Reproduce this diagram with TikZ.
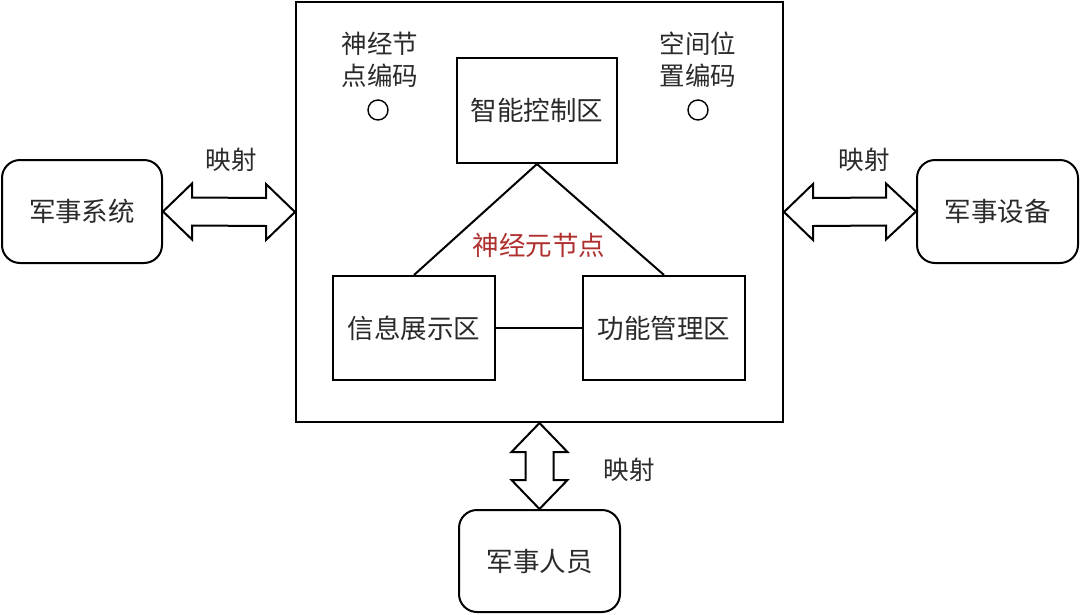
\documentclass[tikz,border=0pt]{standalone}
\usepackage{fontspec}
\setmainfont{Noto Sans CJK SC}
\usetikzlibrary{calc}
\definecolor{txt}{HTML}{2A2A2A}
\definecolor{redtxt}{HTML}{B03030}
\begin{document}
\begin{tikzpicture}[x=1pt,y=-1pt,
  every node/.style={font=\fontsize{26.5}{30}\selectfont, text=txt},
  box/.style={draw=black, line width=2pt, inner sep=0pt},
  rbox/.style={box, rounded corners=18pt},
  link/.style={draw=black, line width=2pt},
  lbl/.style={font=\fontsize{25.5}{32}\selectfont, text=txt, inner sep=0pt}]
\useasboundingbox (0,0) rectangle (1080,614);
\fill[white] (0,0) rectangle (1080,614);
% main box
\node[box, minimum width=487pt, minimum height=420pt] (main) at (539.5,212) {};
% outer boxes
\node[rbox, minimum width=160pt, minimum height=103pt] (sys) at (82,211.5) {军事系统};
\node[rbox, minimum width=161pt, minimum height=103pt] (dev) at (997.5,211.5) {军事设备};
\node[rbox, minimum width=161pt, minimum height=102pt] (per) at (539.5,561) {军事人员};
% inner boxes
\node[box, minimum width=160pt, minimum height=105pt] (ctrl) at (537,110.5) {智能控制区};
\node[box, minimum width=162pt, minimum height=104pt] (info) at (414,328) {信息展示区};
\node[box, minimum width=162pt, minimum height=104pt] (func) at (664,328) {功能管理区};
% triangle links
\draw[link] (ctrl.south) -- (info.north);
\draw[link] (ctrl.south) -- (func.north);
\draw[link] (info.east) -- (func.west);
\node[text=redtxt, inner sep=0pt] (neuron) at (539,245) {神经元节点};
% encoding labels
\node[lbl, align=center] (nenc) at (380,60) {神经节\\点编码};
\node[lbl, align=center] (senc) at (698,60) {空间位\\置编码};
\node[draw=black, line width=1.4pt, circle, minimum size=20pt, inner sep=0pt] (c1) at (378,110) {};
\node[draw=black, line width=1.4pt, circle, minimum size=20pt, inner sep=0pt] (c2) at (698,110) {};
% double arrows
\draw[link, line join=miter]
  (sys.east) -- ++(29,-28) -- ++(0,14) -- ($(main.west)+(-29,-14)$) -- ++(0,-14)
  -- (main.west) -- ++(-29,28) -- ++(0,-14) -- ($(sys.east)+(29,14)$) -- ++(0,14) -- cycle;
\draw[link, line join=miter]
  (main.east) -- ++(29,-28) -- ++(0,14) -- ($(dev.west)+(-30,-14)$) -- ++(0,-14)
  -- (dev.west) -- ++(-30,28) -- ++(0,-14) -- ($(main.east)+(29,14)$) -- ++(0,14) -- cycle;
\draw[link, line join=miter]
  (main.south) -- ++(28,29) -- ++(-14,0) -- ($(per.north)+(14,-29)$) -- ++(14,0)
  -- (per.north) -- ++(-28,-29) -- ++(14,0) -- ($(main.south)+(-14,29)$) -- ++(-14,0) -- cycle;
% mapping labels
\node[lbl] (m1) at (231,160) {映射};
\node[lbl] (m2) at (864,160) {映射};
\node[lbl] (m3) at (629,470) {映射};
\end{tikzpicture}
\end{document}
